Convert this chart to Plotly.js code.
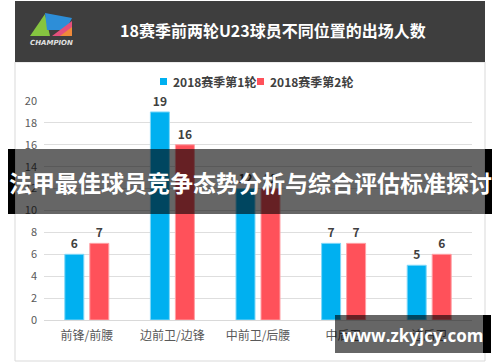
<!DOCTYPE html>
<html><head><meta charset="utf-8">
<script src="https://cdn.plot.ly/plotly-3.0.1.min.js"></script>
<style>html,body{margin:0;padding:0;background:#fff;}#c{width:500px;height:362px;}</style>
</head><body><div id="c"></div>
<script>
const categories = ['前锋/前腰', '边前卫/边锋', '中前卫/后腰', '中后卫', '边后卫'];
const seriesNames = ['2018赛季第1轮', '2018赛季第2轮'];
const round1 = [6, 19, 12, 7, 5];
const round2 = [7, 16, 12, 7, 6];
const yTicks = [0, 2, 4, 6, 8, 10, 12, 14, 16, 18, 20];
const chartTitle = '18赛季前两轮U23球员不同位置的出场人数';
const bannerText = '法甲最佳球员竞争态势分析与综合评估标准探讨';
const watermark = 'www.zkyjcy.com';

const L = 44, R = 472, T = 101, B = 320;
const W = 500, H = 362;
const px = x => (x - L) / (R - L);
const py = y => (B - y) / (B - T);
const rect = (x0, y0, x1, y1, fill, line, layer) => ({type:'rect', xref:'paper', yref:'paper',
  x0:px(x0), x1:px(x1), y0:py(y1), y1:py(y0), fillcolor:fill,
  line: line ? {color:line, width:1} : {width:0}, layer: layer || 'above'});
const poly = (pts, fill) => ({type:'path', xref:'paper', yref:'paper',
  path: 'M' + pts.map(p => px(p[0]) + ',' + py(p[1])).join(' L') + ' Z',
  fillcolor: fill, line:{width:0}, layer:'above'});

const font = '"Noto Sans CJK SC", "Noto Sans", sans-serif';
const colors = ['#00b0f0', '#ff515a'];
const edge = ['#80d8f8', '#ffa0a5'];

const traces = [round1, round2].map((vals, i) => ({
  type:'bar', x:categories, y:vals, name:seriesNames[i],
  marker:{color:colors[i], line:{color:edge[i], width:1}},
  text: vals.map(String), textposition:'outside', cliponaxis:false,
  textfont:{family:font, size:12, color:'#404040', weight:'bold'},
  hoverinfo:'none', showlegend:false
}));

const shapes = [
  rect(15, 62, 485, 361, 'rgba(0,0,0,0)', '#d9d9d9', 'below'),
  rect(15, 1, 485, 62, '#3e3e3e', null),
  poly([[30,36],[45,14],[50,36]], '#86c440'),
  poly([[45,13],[72,18],[66,30],[47,30]], '#2d8ed8'),
  poly([[52,36],[72,21],[72,36]], '#e4507c'),
  poly([[60,36],[72,27],[72,36]], '#f08a3a'),
  // legend squares
  rect(160, 78, 167, 85, colors[0], null),
  rect(257, 78, 264, 85, colors[1], null),
  // banner
  rect(15, 149, 485, 214, 'rgba(0,0,0,0.6)', null),
  rect(8, 149, 15, 214, '#000', null),
  rect(485, 149, 492, 214, '#000', null),
  // watermark
  rect(335, 315, 483, 353, 'rgba(0,0,0,0.6)', null),
  rect(483, 315, 491, 353, '#000', null)
];

const annotations = [
  {text:chartTitle, x:px(273), y:py(30), xref:'paper', yref:'paper', showarrow:false,
   xanchor:'center', yanchor:'middle', font:{family:font, size:16, color:'#ffffff', weight:'bold'}},
  {text:'<i>CHAMPION</i>', x:px(51), y:py(43), xref:'paper', yref:'paper', showarrow:false,
   xanchor:'center', yanchor:'middle', font:{family:'"DejaVu Sans", sans-serif', size:7, color:'#e0e0e0', weight:'bold'}},
  {text:seriesNames[0], x:px(171), y:py(82), xref:'paper', yref:'paper', showarrow:false,
   xanchor:'left', yanchor:'middle', font:{family:font, size:12, color:'#404040', weight:'bold'}},
  {text:seriesNames[1], x:px(268), y:py(82), xref:'paper', yref:'paper', showarrow:false,
   xanchor:'left', yanchor:'middle', font:{family:font, size:12, color:'#404040', weight:'bold'}},
  {text:bannerText, x:px(250), y:py(182), xref:'paper', yref:'paper', showarrow:false,
   xanchor:'center', yanchor:'middle', font:{family:font, size:23, color:'#ffffff', weight:'bold'}},
  {text:watermark, x:px(412), y:py(335), xref:'paper', yref:'paper', showarrow:false,
   xanchor:'center', yanchor:'middle', font:{family:'"Open Sans", "DejaVu Sans", sans-serif', size:17, color:'#ffffff', weight:'bold'}}
];

const layout = {
  width:W, height:H,
  margin:{l:L, r:W-R, t:T, b:H-B, pad:0},
  paper_bgcolor:'#ffffff', plot_bgcolor:'#ffffff',
  barmode:'group', bargap:0.416, bargroupgap:0.24,
  showlegend:false,
  xaxis:{type:'category', showgrid:false, zeroline:false, showline:false, ticks:'',
    ticklabelstandoff:7,
    tickfont:{family:font, size:12, color:'#595959'}, fixedrange:true},
  yaxis:{range:[0,20], tickvals:yTicks, ticktext:yTicks.map(String), showgrid:true,
    gridcolor:'#dedede', gridwidth:1, zeroline:true, zerolinecolor:'#d9d9d9', zerolinewidth:1,
    showline:false, ticks:'', ticklabelstandoff:6,
    tickfont:{family:font, size:11, color:'#595959'}, fixedrange:true},
  shapes:shapes, annotations:annotations
};

Plotly.newPlot('c', traces, layout, {staticPlot:true, displayModeBar:false});
</script></body></html>
